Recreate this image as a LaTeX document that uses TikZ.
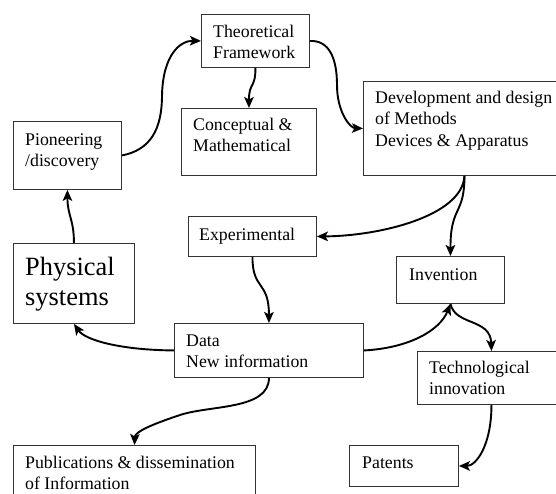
\documentclass[tikz,border=0pt]{standalone}
\usepackage{fontspec}
\setmainfont{Liberation Serif}
\usetikzlibrary{arrows.meta}

\tikzset{
  x=1pt, y=-1pt,
  box/.style={draw=black!80, line width=0.9pt, rectangle, anchor=north west, inner sep=0pt},
  % labels are placed by the baseline of their last line
  txt/.style={anchor=base west, align=left, inner sep=0pt,
    font=\fontsize{17.8}{21.5}\selectfont},
  bigtxt/.style={anchor=base west, align=left, inner sep=0pt,
    font=\fontsize{26.4}{30}\selectfont},
  flow/.style={line width=1.9pt, -{Stealth[length=11pt,width=9.5pt,inset=2.5pt]}},
}

\begin{document}
\begin{tikzpicture}
\useasboundingbox (0,0) rectangle (556,493);

% boxes
\node[box, minimum width=108pt, minimum height=53pt] (theo) at (201,14) {};
\node[box, minimum width=135pt, minimum height=67pt] (conc) at (181,108) {};
\node[box, minimum width=108pt, minimum height=68pt] (pion) at (13,121) {};
\node[box, minimum width=202pt, minimum height=94pt] (dev)  at (363,81) {};
\node[box, minimum width=128pt, minimum height=40pt] (exp)  at (188,216) {};
\node[box, minimum width=121pt, minimum height=80pt] (phys) at (13,243) {};
\node[box, minimum width=189pt, minimum height=54pt] (data) at (174,323) {};
\node[box, minimum width=108pt, minimum height=47pt] (inv)  at (396,256) {};
\node[box, minimum width=148pt, minimum height=53pt] (tech) at (417,351) {};
\node[box, minimum width=109pt, minimum height=41pt] (pat)  at (349,445) {};
\node[box, minimum width=242pt, minimum height=60pt] (pub)  at (13,445) {};

% labels
\node[txt] (theoT) at (213,58.5) {Theoretical\\Framework};
\node[txt] (concT) at (193,151.5) {Conceptual \&\\Mathematical};
\node[txt] (pionT) at (25,166.5) {Pioneering\\/discovery};
\node[txt] (devT)  at (375,146) {Development and design\\of Methods\\Devices \& Apparatus};
\node[txt] (expT)  at (199,240) {Experimental};
\node[bigtxt] (physT) at (25,305) {Physical\\systems};
\node[txt] (dataT) at (186,367.5) {Data\\New information};
\node[txt] (invT)  at (409,280) {Invention};
\node[txt] (techT) at (429,394.5) {Technological\\innovation};
\node[txt] (patT)  at (362,468) {Patents};
\node[txt] (pubT)  at (25,489.5) {Publications \& dissemination\\of Information};

% connectors
\draw[flow] (phys.north) .. controls ++(0,-24) and ++(0,26) .. (pion.south);
\draw[flow] (pion.east) .. controls (150,150) and (162,130) .. (162,95)
            .. controls (163,55) and (180,40.5) .. (theo.west);
\draw[flow] (theo.south) .. controls ++(0,21) and ++(0,-26) .. (conc.north);
\draw[flow] (theo.east) .. controls (330,40) and (337,60) .. (337,85)
            .. controls (337,112) and (350,128) .. (dev.west);
\draw[flow] (dev.south) .. controls ++(-2,40) and (380,236) .. (exp.east);
\draw[flow] (dev.south) .. controls ++(0,40) and ++(0,-51) .. (inv.north);
\draw[flow] (exp.south) .. controls ++(0,34) and ++(0,-43) .. (data.north);
\draw[flow] (data.west) .. controls (120,350) and (85,340) .. (phys.south);
\draw[flow] (data.south) .. controls (269,410) and (210,405) .. (180,415)
            .. controls (150,425) and (135,432) .. (pub.north);
\draw[flow] (data.east) .. controls (410,348) and (440,330) .. (inv.south);
\draw[flow] (inv.south) .. controls ++(5,22) and ++(-1,-33) .. (tech.north);
\draw[flow] (tech.south) .. controls ++(0,41) and ++(17,0) .. (pat.east);
\end{tikzpicture}
\end{document}
